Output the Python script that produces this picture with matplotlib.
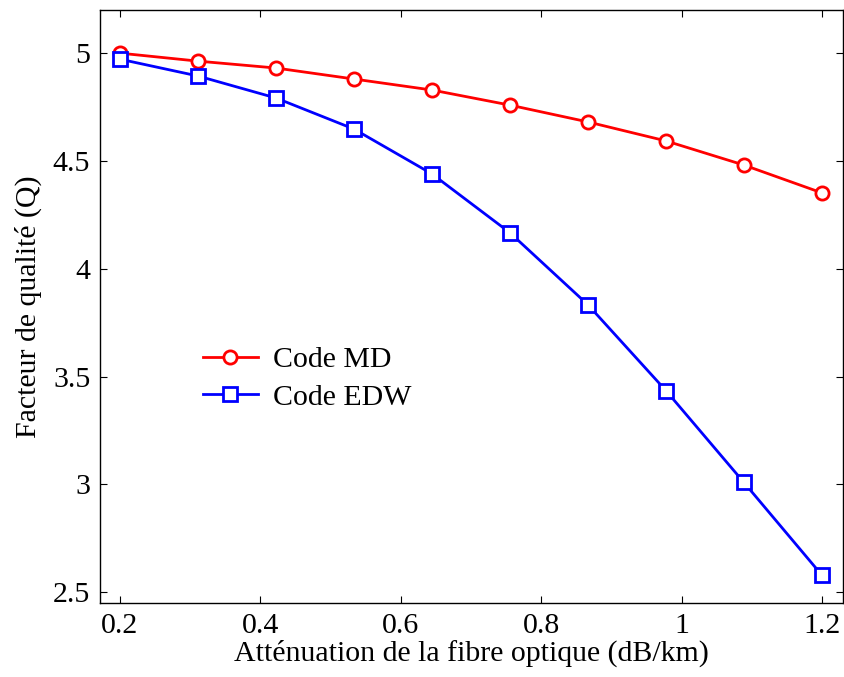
import numpy as np
import matplotlib
matplotlib.use("Agg")
import matplotlib.pyplot as plt

plt.rcParams['font.family'] = ['Liberation Serif', 'DejaVu Serif']
plt.rcParams['mathtext.fontset'] = 'stix'

# Fibre attenuation (dB/km)
attenuation = np.linspace(0.2, 1.2, 10)
# Quality factor for each code
q_md = [5.00, 4.963, 4.931, 4.880, 4.829, 4.759, 4.681, 4.593, 4.481, 4.352]
q_edw = [4.972, 4.894, 4.792, 4.648, 4.440, 4.167, 3.833, 3.435, 3.009, 2.579]

x_ticks = [0.2, 0.4, 0.6, 0.8, 1.0, 1.2]
x_tick_labels = ['0.2', '0.4', '0.6', '0.8', '1', '1.2']
y_ticks = [2.5, 3.0, 3.5, 4.0, 4.5, 5.0]
y_tick_labels = ['2.5', '3', '3.5', '4', '4.5', '5']

FS = 21.5

fig = plt.figure(figsize=(8.45, 6.77), dpi=100)
ax = fig.add_axes([0.1183, 0.1093, 0.8793, 0.8759])

ax.plot(attenuation, q_md, color='#ff0000', lw=2.0, marker='o', ms=9.5,
        mfc='white', mec='#ff0000', mew=2, label='Code MD')
ax.plot(attenuation, q_edw, color='#0000ff', lw=2.0, marker='s', ms=10,
        mfc='white', mec='#0000ff', mew=2, label='Code EDW')

ax.set_xlim(0.1715, 1.23)
ax.set_ylim(2.45, 5.2)
ax.set_xticks(x_ticks)
ax.set_xticklabels(x_tick_labels)
ax.set_yticks(y_ticks)
ax.set_yticklabels(y_tick_labels)
ax.tick_params(direction='in', length=5, width=0.8, labelsize=FS, top=True, right=True, pad=7)
for s in ax.spines.values():
    s.set_linewidth(1.0)

ax.set_xlabel('Atténuation de la fibre optique (dB/km)', fontsize=FS, labelpad=1)
ax.set_ylabel('Facteur de qualité (Q)', fontsize=FS, labelpad=8)

ax.legend(loc='upper left', bbox_to_anchor=(0.102, 0.478), frameon=False, fontsize=FS,
          handlelength=1.85, handletextpad=0.5, labelspacing=0.35)

fig.savefig('out.png', dpi=100)
